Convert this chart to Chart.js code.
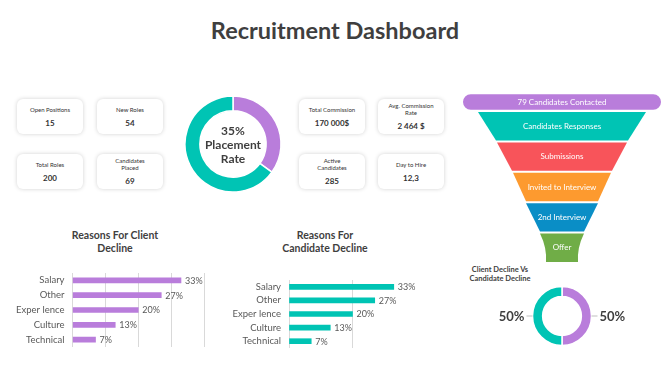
<!DOCTYPE html>
<html>
<head>
<meta charset="utf-8">
<script src="https://cdn.jsdelivr.net/npm/chart.js@4.4.1/dist/chart.umd.min.js"></script>
<style>
    body { margin: 0; background: #fff; font-family: Lato, sans-serif; }
    #page { position: relative; width: 670px; height: 376px; overflow: hidden; }
    h1 { position: absolute; left: 0; width: 670px; top: 16px; margin: 0; text-align: center;
         font: bold 23.5px Lato, sans-serif; color: #3f3f3f; }
    .card { position: absolute; width: 66px; height: 35px; border-radius: 6px; background: #fff;
            box-shadow: 0 0 4px rgba(0,0,0,0.18); display: flex; flex-direction: column;
            align-items: center; justify-content: center; text-align: center; color: #333; }
    .card .lbl { font-size: 6px; line-height: 7px; }
    .card .val { font-size: 8px; font-weight: bold; margin-top: 5px; }
    .title { position: absolute; text-align: center; font: bold 10.5px Lato, sans-serif; color: #3f3f3f; line-height: 13px; }
    canvas { position: absolute; }
</style>
</head>
<body>
<div id="page">
    <h1>Recruitment Dashboard</h1>
    <div id="cards"></div>

    <canvas id="placementChart" width="100" height="100" style="left:183px;top:94px"></canvas>
    <canvas id="pillChart" width="220" height="18" style="left:452px;top:93px"></canvas>
    <canvas id="funnelChart" width="220" height="152" style="left:452px;top:111px"></canvas>

    <div class="title" style="left:55px;top:229px;width:120px">Reasons For Client<br>Decline</div>
    <div class="title" style="left:265px;top:229px;width:120px">Reasons For<br>Candidate Decline</div>
    <canvas id="clientChart" width="200" height="74" style="left:10px;top:273px"></canvas>
    <canvas id="candidateChart" width="210" height="68" style="left:220px;top:280px"></canvas>

    <div class="title" style="left:440px;top:265px;width:120px;font-size:7.5px;line-height:9px">Client Decline Vs<br>Candidate Decline</div>
    <canvas id="declineChart" width="160" height="70" style="left:482px;top:281px"></canvas>
</div>

<script>
// данные
const kpiLabels = ['Open Positions', 'New Roles', 'Total Roles', 'Candidates<br>Placed',
                   'Total Commission', 'Avg. Commission<br>Rate', 'Active<br>Candidates', 'Day to Hire'];
const kpiValues = ['15', '54', '200', '69', '170 000$', '2 464 $', '285', '12,3'];
const kpiPos = [[17, 99], [97, 99], [17, 154], [97, 154], [299, 99], [378, 99], [299, 154], [378, 154]];

const placementLabels = ['Placed', 'Not placed'];
const placementValues = [35, 65];

const pillLabel = '79 Candidates Contacted';
const funnelStages = ['Candidates Responses', 'Submissions', 'Invited to Interview', '2nd Interview', 'Offer'];
const funnelTop = [84, 65, 49, 36, 22];
const funnelBottom = [66, 50, 36, 22, 16];
const funnelColors = ['#00c4b4', '#f8545a', '#fd9a2f', '#0a8ec6', '#70ad47'];

const reasonLabels = ['Salary', 'Other', 'Exper lence', 'Culture', 'Technical'];
const clientDecline = [33, 27, 20, 13, 7];
const candidateDecline = [33, 27, 20, 13, 7];

const declineLabels = ['Client Decline', 'Candidate Decline'];
const declineValues = [50, 50];

const PURPLE = '#b97ddb';
const TEAL = '#00c4b4';
const TEXT = '#3f3f3f';

Chart.defaults.font.family = 'Lato, sans-serif';
Chart.defaults.plugins.legend.display = false;
Chart.defaults.plugins.tooltip.enabled = false;
Chart.defaults.animation = false;
Chart.defaults.responsive = false;

// карточки KPI
const cards = document.getElementById('cards');
kpiLabels.forEach((l, i) => {
    const d = document.createElement('div');
    d.className = 'card';
    d.style.left = kpiPos[i][0] + 'px';
    d.style.top = kpiPos[i][1] + 'px';
    d.innerHTML = '<div class="lbl">' + l + '</div><div class="val">' + kpiValues[i] + '</div>';
    cards.appendChild(d);
});

// кольцо placement rate
new Chart(document.getElementById('placementChart'), {
    type: 'doughnut',
    data: {
        labels: placementLabels,
        datasets: [{ data: placementValues, backgroundColor: [PURPLE, TEAL], borderColor: '#fff', borderWidth: 1.5 }]
    },
    options: { radius: 48, cutout: 34 },
    plugins: [{
        id: 'centerText',
        afterDraw(chart) {
            const ctx = chart.ctx;
            const a = chart.getDatasetMeta(0).data[0];
            ctx.save();
            ctx.fillStyle = TEXT;
            ctx.font = 'bold 12px Lato, sans-serif';
            ctx.textAlign = 'center';
            ctx.textBaseline = 'middle';
            ctx.fillText(placementValues[0] + '%', a.x, a.y - 13);
            ctx.fillText('Placement', a.x, a.y + 1);
            ctx.fillText('Rate', a.x, a.y + 15);
            ctx.restore();
        }
    }]
});

// верхняя "таблетка" воронки
new Chart(document.getElementById('pillChart'), {
    type: 'bar',
    data: {
        labels: [pillLabel],
        datasets: [{ data: [[-99, 99]], backgroundColor: PURPLE, borderRadius: 8, borderSkipped: false,
                     barPercentage: 1, categoryPercentage: 0.86 }]
    },
    options: {
        indexAxis: 'y',
        scales: { x: { display: false, min: -110, max: 110 }, y: { display: false } }
    },
    plugins: [{
        id: 'pillText',
        afterDatasetsDraw(chart) {
            const ctx = chart.ctx;
            const b = chart.getDatasetMeta(0).data[0];
            ctx.save();
            ctx.fillStyle = '#fff';
            ctx.font = '8px Lato, sans-serif';
            ctx.textAlign = 'center';
            ctx.textBaseline = 'middle';
            ctx.fillText(pillLabel, chart.scales.x.getPixelForValue(0), b.y + 0.5);
            ctx.restore();
        }
    }]
});

// воронка - трапеции рисуем по шкалам
new Chart(document.getElementById('funnelChart'), {
    type: 'bar',
    data: {
        labels: funnelStages,
        datasets: [{ data: funnelStages.map((s, i) => [-funnelTop[i], funnelTop[i]]),
                     backgroundColor: 'rgba(0,0,0,0)', barPercentage: 1, categoryPercentage: 1 }]
    },
    options: {
        indexAxis: 'y',
        scales: { x: { display: false, min: -110, max: 110 }, y: { display: false } }
    },
    plugins: [{
        id: 'funnelShapes',
        afterDatasetsDraw(chart) {
            const ctx = chart.ctx;
            const xs = chart.scales.x;
            ctx.save();
            chart.getDatasetMeta(0).data.forEach((bar, i) => {
                const top = bar.y - bar.height / 2 + 1;
                const bottom = bar.y + bar.height / 2 - 1;
                const tl = xs.getPixelForValue(-funnelTop[i]), tr = xs.getPixelForValue(funnelTop[i]);
                const bl = xs.getPixelForValue(-funnelBottom[i]), br = xs.getPixelForValue(funnelBottom[i]);
                ctx.beginPath();
                ctx.moveTo(tl, top);
                ctx.lineTo(tr, top);
                if (i === funnelStages.length - 1) {
                    // последний блок с вогнутыми краями
                    ctx.quadraticCurveTo(br - 1, (top + bottom) / 2, br, bottom);
                    ctx.lineTo(bl, bottom);
                    ctx.quadraticCurveTo(bl + 1, (top + bottom) / 2, tl, top);
                } else {
                    ctx.lineTo(br, bottom);
                    ctx.lineTo(bl, bottom);
                }
                ctx.closePath();
                ctx.fillStyle = funnelColors[i];
                ctx.fill();

                ctx.fillStyle = '#fff';
                ctx.font = '8px Lato, sans-serif';
                ctx.textAlign = 'center';
                ctx.textBaseline = 'middle';
                ctx.fillText(funnelStages[i], xs.getPixelForValue(0), (top + bottom) / 2);
            });
            ctx.restore();
        }
    }]
});

// подписи значений для горизонтальных баров
const valueLabels = {
    id: 'valueLabels',
    afterDatasetsDraw(chart) {
        const ctx = chart.ctx;
        const ds = chart.data.datasets[0];
        ctx.save();
        ctx.fillStyle = '#595959';
        ctx.font = '9px Lato, sans-serif';
        ctx.textAlign = 'left';
        ctx.textBaseline = 'middle';
        chart.getDatasetMeta(0).data.forEach((bar, i) => {
            ctx.fillText(ds.data[i] + '%', bar.x + 4, bar.y + 0.5);
        });
        ctx.restore();
    }
};

function makeReasonChart(id, values, color, axisWidth, padRight, step) {
    return new Chart(document.getElementById(id), {
        type: 'bar',
        data: {
            labels: reasonLabels,
            datasets: [{ data: values, backgroundColor: color, barThickness: 5 }]
        },
        options: {
            indexAxis: 'y',
            layout: { autoPadding: false, padding: { left: 0, right: padRight, top: 0, bottom: 0 } },
            scales: {
                x: {
                    min: 0, max: 40,
                    ticks: { display: false, stepSize: step },
                    border: { display: false },
                    grid: {
                        drawTicks: false,
                        color: c => (c.tick && c.tick.value === 40 && step === 20) ? 'rgba(0,0,0,0)' : '#d9d9d9'
                    },
                    afterFit: s => { s.height = 0; s.paddingLeft = 0; s.paddingRight = 0; }
                },
                y: {
                    ticks: { color: '#595959', font: { size: 9.5 }, padding: 8, autoSkip: false },
                    grid: { display: false, drawTicks: false },
                    border: { display: false },
                    afterFit: s => { s.width = axisWidth; s.paddingTop = 0; s.paddingBottom = 0; }
                }
            }
        },
        plugins: [valueLabels]
    });
}

makeReasonChart('clientChart', clientDecline, PURPLE, 62.5, 6, 10);
makeReasonChart('candidateChart', candidateDecline, TEAL, 69, 14, 20);

// кольцо client vs candidate
new Chart(document.getElementById('declineChart'), {
    type: 'doughnut',
    data: {
        labels: declineLabels,
        datasets: [{ data: declineValues, backgroundColor: [PURPLE, TEAL], borderColor: '#fff', borderWidth: 1.5 }]
    },
    options: { radius: 29.5, cutout: 22.5 },
    plugins: [{
        id: 'sideLabels',
        afterDraw(chart) {
            const ctx = chart.ctx;
            ctx.save();
            ctx.font = 'bold 13px Lato, sans-serif';
            ctx.textBaseline = 'middle';
            chart.getDatasetMeta(0).data.forEach((arc, i) => {
                const mid = (arc.startAngle + arc.endAngle) / 2;
                const dir = Math.cos(mid) >= 0 ? 1 : -1;
                const x0 = arc.x + Math.cos(mid) * arc.outerRadius;
                const y0 = arc.y + Math.sin(mid) * arc.outerRadius;
                ctx.strokeStyle = '#bfbfbf';
                ctx.lineWidth = 1;
                ctx.beginPath();
                ctx.moveTo(x0, y0);
                ctx.lineTo(x0 + dir * 6, y0);
                ctx.stroke();
                ctx.fillStyle = TEXT;
                ctx.textAlign = dir > 0 ? 'left' : 'right';
                ctx.fillText(declineValues[i] + '%', x0 + dir * 8, y0 + 1);
            });
            ctx.restore();
        }
    }]
});
</script>
</body>
</html>
